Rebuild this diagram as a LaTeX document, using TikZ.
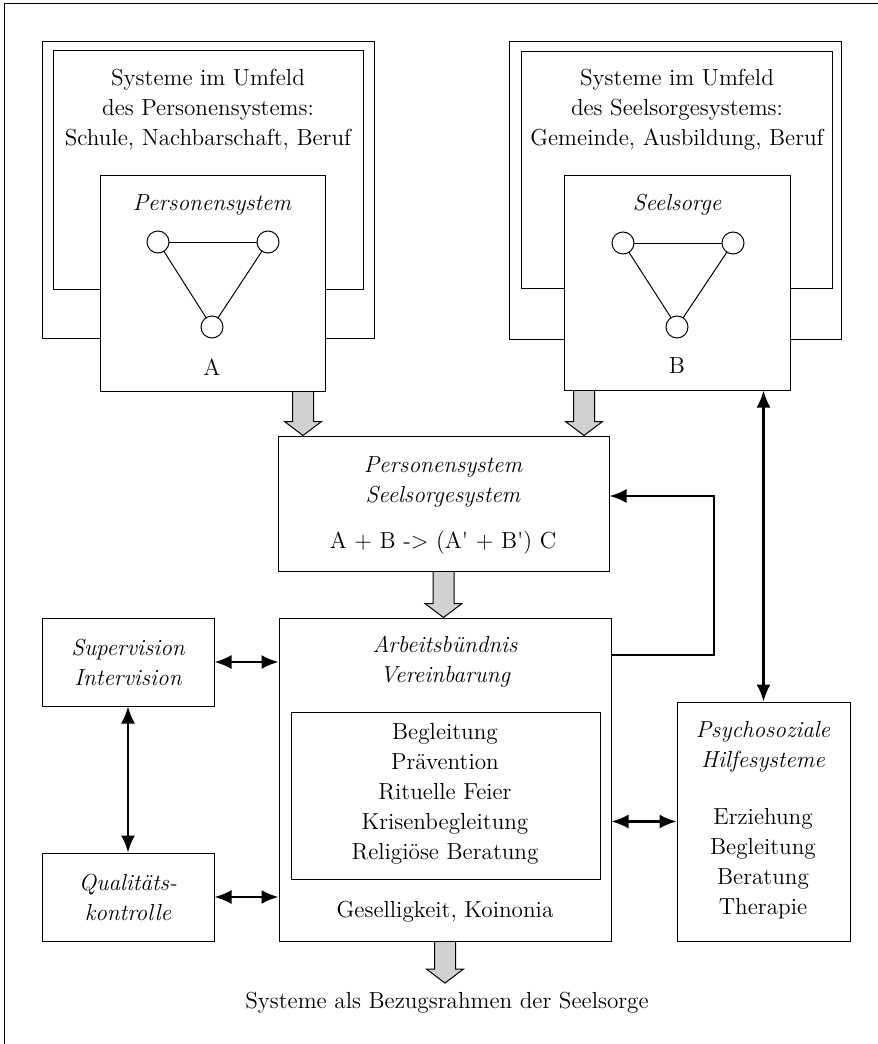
\documentclass[tikz,border=0pt]{standalone}
\usepackage{amsmath}
\usepackage{tikz, tkz-graph}
\usepackage[svgnames]{xcolor}
\usetikzlibrary{arrows.meta, calc, positioning}

\newcommand{\grundschrift}{\fontsize{11.6}{15}\selectfont}

\tikzset{
  kasten/.style={draw, line width=0.5pt, fill=white, inner sep=0pt},
  schrift/.style={align=center, inner sep=0pt, font=\grundschrift},
  kursiv/.style={align=center, inner sep=0pt, font=\grundschrift\itshape},
  pfeil/.style={line width=1.1pt, {Latex[length=8.5pt,width=7pt]}-{Latex[length=8.5pt,width=7pt]}},
  einpfeil/.style={line width=1.1pt, -{Latex[length=8.5pt,width=7pt]}},
  grau/.style={draw, line width=0.5pt, fill=black!18, line join=miter}
}

% breiter grauer Pfeil von #1 nach unten bis #2
\newcommand{\grauerpfeil}[2]{%
  \path[grau] let \p1=(#1), \p2=(#2) in
    (\x1-5.25pt,\y1-0.3pt) -- (\x1-5.25pt,\y2+7pt) -- (\x1-9.25pt,\y2+7pt)
    -- (\x1,\y2) -- (\x1+9.25pt,\y2+7pt) -- (\x1+5.25pt,\y2+7pt)
    -- (\x1+5.25pt,\y1-0.3pt);}

\begin{document}
\begin{tikzpicture}[x=0.5pt, y=-0.5pt]
  \useasboundingbox (0,0) rectangle (878,1044);
  \draw[line width=0.5pt] (4.5,1044) |- (878,3);

  % Personensystem
  \node[kasten, minimum width=166pt, minimum height=148.5pt] (aussenA) at (208,189.5) {};
  \node[kasten, minimum width=155pt, minimum height=119.5pt] (innenA) at (208,169.5) {};
  \node[kasten, minimum width=112.5pt, minimum height=108pt] (personA) at (212.5,283) {};
  \node[schrift] (umfeldA) at (208,110) {Systeme im Umfeld\\des Personensystems:\\Schule, Nachbarschaft, Beruf};
  \node[kursiv] (titelA) at (212,205) {Personensystem};
  \node[schrift] (labelA) at (212,367) {A};

  % Seelsorgesystem
  \node[kasten, minimum width=166pt, minimum height=149pt] (aussenB) at (675,190) {};
  \node[kasten, minimum width=155.5pt, minimum height=118.5pt] (innenB) at (676.5,169.5) {};
  \node[kasten, minimum width=113pt, minimum height=107.5pt] (personB) at (677,282.5) {};
  \node[schrift] (umfeldB) at (677,110) {Systeme im Umfeld\\des Seelsorgesystems:\\Gemeinde, Ausbildung, Beruf};
  \node[kursiv] (titelB) at (677,205) {Seelsorge};
  \node[schrift] (labelB) at (677,366) {B};

  % Dreiecke
  \SetVertexNoLabel
  \tikzset{VertexStyle/.style={draw, circle, fill=white, line width=0.5pt,
      minimum size=11pt, inner sep=0pt}}
  \tikzset{EdgeStyle/.style={line width=0.5pt}}
  \Vertex[x=158,y=242]{a1} \Vertex[x=268,y=242]{a2} \Vertex[x=212,y=327]{a3}
  \Vertex[x=623,y=243]{b1} \Vertex[x=733,y=243]{b2} \Vertex[x=677,y=327]{b3}
  \Edge(a1)(a2) \Edge(a2)(a3) \Edge(a3)(a1)
  \Edge(b1)(b2) \Edge(b2)(b3) \Edge(b3)(b1)

  % Mitte
  \node[kasten, minimum width=165.5pt, minimum height=67.5pt] (mitte) at (443.5,503.5) {};
  \node[kursiv] (mitteTitel) at (443,481.5) {Personensystem\\Seelsorgesystem};
  \node[schrift] (formel) at (443,543) {A + B -> (A\textquotesingle{} + B\textquotesingle) C};

  % Arbeitsbuendnis
  \node[kasten, minimum width=166pt, minimum height=161.5pt] (arbeit) at (445,779.5) {};
  \node[kursiv] (arbeitTitel) at (445,662) {Arbeitsbündnis\\Vereinbarung};
  \node[kasten, minimum width=154.5pt, minimum height=83.5pt] (angebot) at (445.5,795.5) {};
  \node[schrift] (angebotText) at (445,794) {Begleitung\\Prävention\\Rituelle Feier\\Krisenbegleitung\\Religiöse Beratung};
  \node[schrift] (koinonia) at (445,912) {Geselligkeit, Koinonia};

  % links
  \node[kasten, minimum width=86pt, minimum height=44pt] (superv) at (128,662) {};
  \node[kursiv] at (superv) {Supervision\\Intervision};
  \node[kasten, minimum width=86pt, minimum height=44pt] (qualit) at (128,897) {};
  \node[kursiv] at (qualit) {Qualitäts-\\kontrolle};

  % rechts
  \node[kasten, minimum width=86.5pt, minimum height=119.5pt] (hilfe) at (763.5,821.5) {};
  \node[kursiv] (hilfeTitel) at (763,747) {Psychosoziale\\Hilfesysteme};
  \node[schrift] (hilfeText) at (763,863.5) {Erziehung\\Begleitung\\Beratung\\Therapie};

  \node[schrift] (caption) at (447,1003) {Systeme als Bezugsrahmen der Seelsorge};

  % graue Pfeile
  \grauerpfeil{$(personA.south)+(90.5,0)$}{mitte.north}
  \grauerpfeil{$(personB.south)+(-93,0)$}{mitte.north}
  \grauerpfeil{mitte.south}{arbeit.north}
  \grauerpfeil{arbeit.south}{$(caption.north)+(0,-9)$}

  % Verbindungen
  \draw[pfeil] (superv.east) -- (superv.east -| arbeit.west);
  \draw[pfeil] (qualit.east) -- (qualit.east -| arbeit.west);
  \draw[pfeil] (superv.south) -- (qualit.north);
  \draw[pfeil] (hilfe.west -| arbeit.east) -- (hilfe.west);
  \draw[pfeil] (hilfe.north |- personB.south) -- (hilfe.north);
  \coordinate (knick) at (714,655);
  \draw[einpfeil] (arbeit.east |- knick) -- (knick) |- ([yshift=3.75pt]mitte.east);
\end{tikzpicture}
\end{document}
